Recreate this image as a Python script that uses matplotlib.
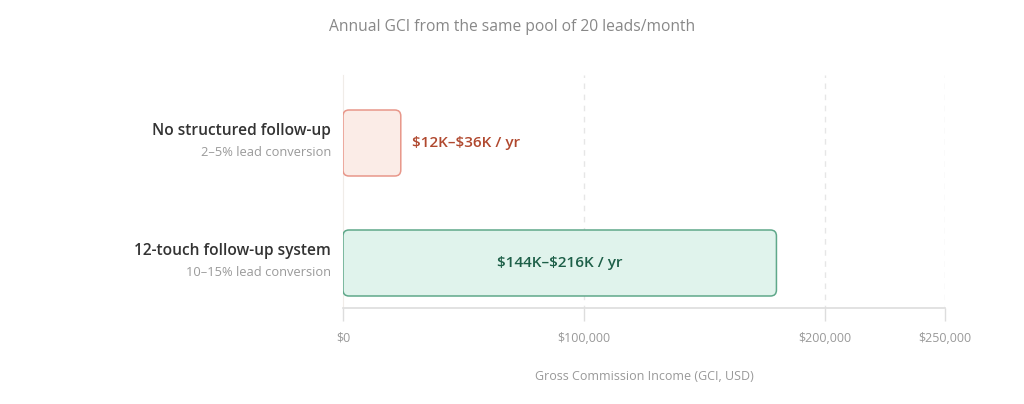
import matplotlib
matplotlib.use("Agg")
import matplotlib.pyplot as plt
from matplotlib.patches import FancyBboxPatch

plt.rcParams['font.family'] = ['Open Sans', 'DejaVu Sans']
plt.rcParams['text.parse_math'] = False

# ---- data ----
categories = ["No structured follow-up", "12-touch follow-up system"]
subtitles = ["2\u20135% lead conversion", "10\u201315% lead conversion"]
gci_values = [24000, 180000]
value_labels = ["$12K\u2013$36K / yr", "$144K\u2013$216K / yr"]
x_ticks = [0, 100000, 200000, 250000]
x_tick_labels = ["$0", "$100,000", "$200,000", "$250,000"]

fill_colors = ["#fbece7", "#e0f3ec"]
edge_colors = ["#e8978a", "#5fa88a"]
text_colors = ["#b0482e", "#1d5f48"]

fig = plt.figure(figsize=(10.24, 4.04), dpi=100)
ax = fig.add_axes([343/1024, (404-308)/404, 602/1024, 233/404])

ax.set_xlim(0, 250000)
ax.set_ylim(1 + 45/120, -68/120)

x_per_px = 250000 / 602
y_per_px = 1 / 120
radius_px = 6
bar_h = 0.55
for i, v in enumerate(gci_values):
    p = FancyBboxPatch((0, i - bar_h/2), v, bar_h,
                       boxstyle=f"round,pad=0,rounding_size={radius_px*x_per_px}",
                       mutation_aspect=y_per_px / x_per_px,
                       facecolor=fill_colors[i], edgecolor=edge_colors[i],
                       linewidth=1.1, zorder=3)
    ax.add_patch(p)

# value labels
ax.text(gci_values[0] + 11*x_per_px, 0, value_labels[0], ha='left', va='center',
        fontsize=11, fontweight='semibold', color=text_colors[0], zorder=4)
ax.text(gci_values[1] / 2, 1, value_labels[1], ha='center', va='center',
        fontsize=11, fontweight='semibold', color=text_colors[1], zorder=4)

# category labels
for i, (c, s) in enumerate(zip(categories, subtitles)):
    ax.text(-12*x_per_px, i - 12/120, c, ha='right', va='center',
            fontsize=11.2, fontweight='semibold', color='#333333')
    ax.text(-12*x_per_px, i + 10/120, s, ha='right', va='center',
            fontsize=9.3, color='#9a9a9a')

# grid
for xv in x_ticks[1:]:
    ax.axvline(xv, color='#e6e6e6', linewidth=1, linestyle=(2, (4, 4)), zorder=1)

ax.set_xticks(x_ticks)
ax.set_xticklabels(x_tick_labels)
ax.set_yticks([])
ax.tick_params(axis='x', direction='out', length=9, width=1, color='#dddddd',
               labelcolor='#999999', labelsize=9, pad=8)
for s in ['top', 'right']:
    ax.spines[s].set_visible(False)
ax.spines['left'].set_color('#f0ece8')
ax.spines['bottom'].set_color('#dddddd')
ax.spines['bottom'].set_linewidth(1.2)

ax.set_xlabel("Gross Commission Income (GCI, USD)", fontsize=9, color='#999999', labelpad=18)

fig.text(512/1024, 1 - 27/404, "Annual GCI from the same pool of 20 leads/month",
         ha='center', va='center', fontsize=11.25, color='#888888')

fig.savefig("out.png", dpi=100, facecolor='white')
